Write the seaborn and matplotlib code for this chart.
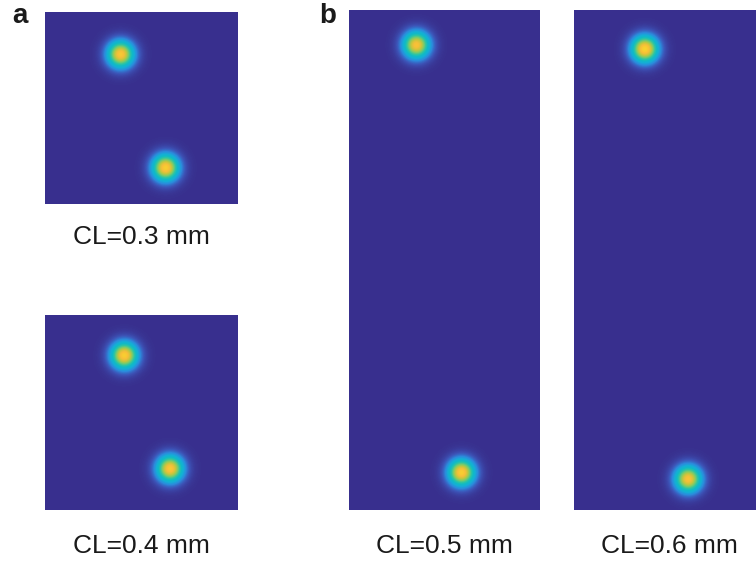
import numpy as np
import pandas as pd
import matplotlib
matplotlib.use("Agg")
import matplotlib.pyplot as plt
from matplotlib.colors import LinearSegmentedColormap
import seaborn as sns

sns.set_theme(style="white")
plt.rcParams["font.family"] = ["Liberation Sans", "DejaVu Sans"]

# Coupling length of each simulated field
captions = ["CL=0.3 mm", "CL=0.4 mm", "CL=0.5 mm", "CL=0.6 mm"]
panel_letters = ["a", "b"]

# Field size of each map (columns, rows)
field_cols = [193, 193, 191, 191]
field_rows = [192, 195, 500, 500]

# Spot centres as fractions of the field (input spot, output spot)
spot_x = [[0.392, 0.625], [0.411, 0.648], [0.353, 0.589], [0.371, 0.598]]
spot_y = [[0.220, 0.811], [0.207, 0.788], [0.070, 0.925], [0.078, 0.938]]
spot_peak = [[0.84, 0.86], [0.86, 0.84], [0.82, 0.86], [0.88, 0.82]]
spot_sigma = 9.5

# Parula-like colour scale (muted at the low end)
parula_colors = [
    (0.220, 0.185, 0.555), (0.235, 0.330, 0.720), (0.170, 0.540, 0.860),
    (0.080, 0.680, 0.840), (0.060, 0.730, 0.770), (0.194, 0.770, 0.622),
    (0.477, 0.793, 0.421), (0.757, 0.775, 0.244), (0.968, 0.747, 0.221),
    (0.977, 0.843, 0.171), (0.976, 0.983, 0.054),
]
parula = LinearSegmentedColormap.from_list("parula", parula_colors)


def intensity_map(i):
    nx, ny = field_cols[i], field_rows[i]
    xx, yy = np.meshgrid(np.arange(nx) + 0.5, np.arange(ny) + 0.5)
    z = np.zeros((ny, nx))
    for cx, cy, a in zip(spot_x[i], spot_y[i], spot_peak[i]):
        r2 = (xx - cx * nx) ** 2 + (yy - cy * ny) ** 2
        z += a * np.exp(-r2 / (2 * spot_sigma ** 2))
    return pd.DataFrame(z)


W, H = 756, 563
fig = plt.figure(figsize=(W / 100, H / 100), dpi=100)

# axes boxes in pixels: left, top, right, bottom
boxes = [
    (45, 12.3, 238, 204),
    (45, 314.7, 238, 510),
    (349.3, 10, 540, 510),
    (574.3, 10, 765, 510),
]
caption_y = [237, 546, 546, 546]

for i, (l, t, r, b) in enumerate(boxes):
    ax = fig.add_axes([l / W, 1 - b / H, (r - l) / W, (b - t) / H])
    sns.heatmap(intensity_map(i), ax=ax, cmap=parula, vmin=0, vmax=1,
                cbar=False, xticklabels=False, yticklabels=False,
                rasterized=True)
    ax.set_xlabel("")
    ax.set_ylabel("")
    fig.text((l + r) / 2 / W, 1 - caption_y[i] / H, captions[i],
             ha="center", va="center", fontsize=19, color="#1a1a1a")

fig.text(20 / W, 1 - 16 / H, panel_letters[0], ha="center", va="center",
         fontsize=20, fontweight="bold", color="#1a1a1a")
fig.text(328 / W, 1 - 16 / H, panel_letters[1], ha="center", va="center",
         fontsize=20, fontweight="bold", color="#1a1a1a")

fig.savefig("out.png", dpi=100)
